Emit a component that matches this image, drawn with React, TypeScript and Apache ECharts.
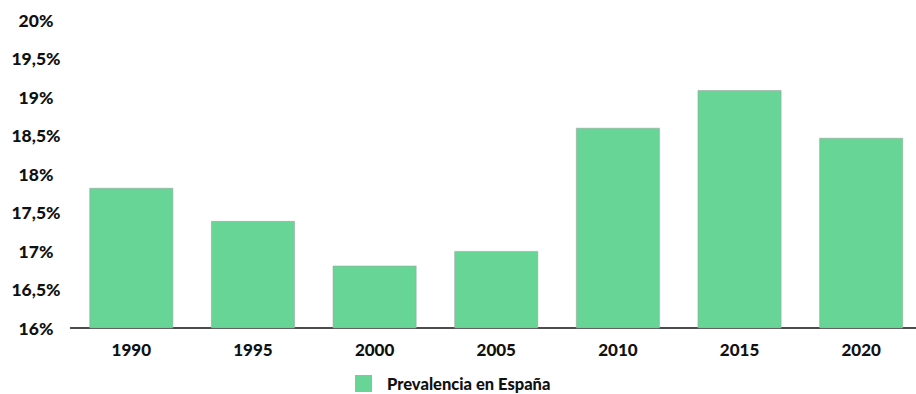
import React, { useEffect, useRef } from "react";
import * as echarts from "echarts";

const years = ["1990", "1995", "2000", "2005", "2010", "2015", "2020"];
const prevalence = [17.82, 17.39, 16.81, 17.0, 18.6, 19.09, 18.47];
const seriesName = "Prevalencia en España";

const FONT = "Lato, 'Noto Sans', sans-serif";

export default function App() {
  const ref = useRef<HTMLDivElement>(null);

  useEffect(() => {
    if (!ref.current) return;
    const chart = echarts.init(ref.current, undefined, { renderer: "svg" });
    chart.setOption({
      animation: false,
      backgroundColor: "#ffffff",
      grid: { left: 70.5, right: 0, top: 20, bottom: 66, containLabel: false },
      legend: {
        data: [seriesName],
        left: 355,
        top: 375,
        padding: 0,
        itemWidth: 17,
        itemHeight: 17,
        icon: "rect",
        textStyle: {
          fontFamily: FONT,
          fontWeight: 900,
          fontSize: 16.5,
          color: "#111",
          padding: [0, 0, 0, 10],
        },
        itemStyle: { borderWidth: 0 },
      },
      xAxis: {
        type: "category",
        data: years,
        axisLine: { lineStyle: { color: "#111", width: 1.5 } },
        axisTick: { show: false },
        axisLabel: {
          margin: 13,
          fontFamily: FONT,
          fontWeight: 900,
          fontSize: 17,
          color: "#111",
        },
      },
      yAxis: {
        type: "value",
        min: 16,
        max: 20,
        interval: 0.5,
        axisLine: { show: false },
        axisTick: { show: false },
        splitLine: { show: false },
        axisLabel: {
          margin: 34.5,
          align: "center",
          fontFamily: FONT,
          fontWeight: 900,
          fontSize: 17.5,
          color: "#111",
          formatter: (v: number) => String(v).replace(".", ",") + "%",
        },
      },
      series: [
        {
          name: seriesName,
          type: "bar",
          data: prevalence,
          barWidth: "69%",
          itemStyle: {
            color: "#66d595",
            borderColor: "rgba(160,160,160,0.7)",
            borderWidth: 0.8,
          },
        },
      ],
    });
    return () => chart.dispose();
  }, []);

  return (
    <div
      style={{
        position: "fixed",
        left: 0,
        top: 0,
        width: 916,
        height: 394,
        overflow: "hidden",
        background: "#fff",
      }}
    >
      <div ref={ref} style={{ width: 922, height: 394 }} />
    </div>
  );
}
